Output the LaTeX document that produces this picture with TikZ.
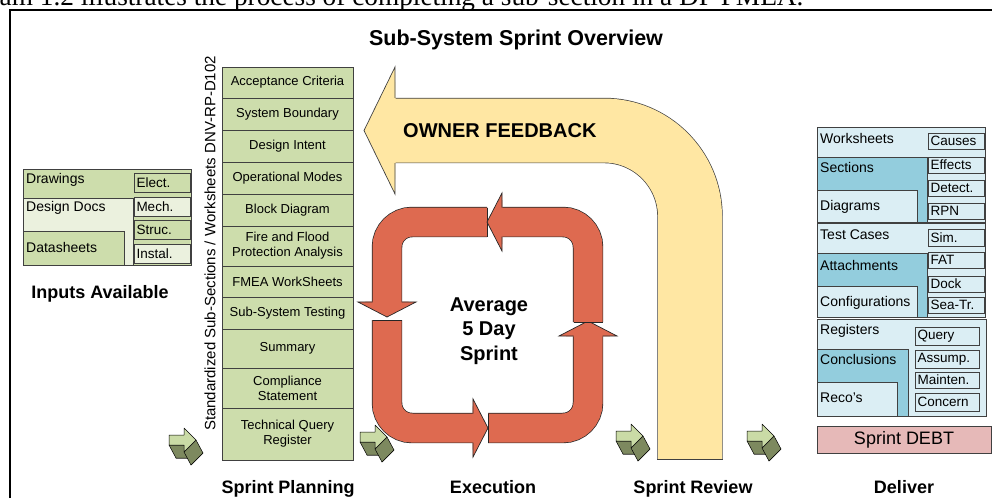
\documentclass[tikz,border=0pt]{standalone}
\usepackage{fontspec}
\setmainfont{Liberation Sans}
\newfontfamily\serifface{Liberation Serif}

\definecolor{plangreen}{RGB}{205,221,172}
\definecolor{palegreen}{RGB}{235,241,222}
\definecolor{paleblue}{RGB}{219,238,244}
\definecolor{tealblue}{RGB}{147,205,221}
\definecolor{debtpink}{RGB}{230,185,184}
\definecolor{feedyellow}{RGB}{255,231,163}
\definecolor{sprintred}{RGB}{222,106,80}
\definecolor{cubelight}{RGB}{202,219,166}
\definecolor{cubedark}{RGB}{125,137,95}
\definecolor{edge}{RGB}{64,64,64}

\tikzset{
  grp/.style={draw=edge, line width=0.8pt},
  item/.style={anchor=west, inner sep=0pt, font=\fontsize{14}{16}\selectfont},
  tagbox/.style={draw=edge, line width=0.8pt, inner xsep=2.5pt, inner ysep=0pt,
    align=left, font=\fontsize{13.5}{15}\selectfont},
  rowbox/.style={draw=edge, line width=0.8pt, fill=plangreen, minimum width=131pt,
    inner sep=0pt, outer sep=0pt, align=center, font=\fontsize{13}{15}\selectfont},
  phase/.style={anchor=base, inner sep=0pt, font=\bfseries\fontsize{18}{18}\selectfont},
  redband/.style={draw=black!85, line width=0.7pt, double=sprintred,
    double distance=29pt, rounded corners=25pt},
  feedband/.style={draw=edge, line width=0.7pt, double=feedyellow,
    double distance=64pt, rounded corners=86pt},
  rim/.style={draw=black!85, line width=0.7pt, line join=miter},
  cubearrow/.pic={
    \filldraw[fill=cubedark, draw=black, line width=0.5pt, line join=round]
      (7,20) -- (22,20) -- (22,13) -- (34,25) -- (22,37) -- (22,30) -- (7,30) -- cycle;
    \filldraw[fill=cubedark, draw=black, line width=0.5pt, line join=round]
      (0,17) -- (15,17) -- (22,30) -- (7,30) -- cycle;
    \filldraw[fill=cubedark, draw=black, line width=0.5pt, line join=round]
      (27,12) -- (15,24) -- (22,37) -- (34,25) -- cycle;
    \filldraw[fill=cubelight, draw=black, line width=0.5pt, line join=round]
      (0,7) -- (15,7) -- (15,0) -- (27,12) -- (15,24) -- (15,17) -- (0,17) -- cycle;
  }
}

\begin{document}
\begin{tikzpicture}[x=1pt,y=-1pt]
\useasboundingbox (0,0) rectangle (992,498);
\clip (0,0) rectangle (992,498);

% running text line above the frame
\node[anchor=base west, inner sep=0pt, font=\serifface\fontsize{27.3}{28}\selectfont]
  (intro) at (-0.5,5) {am 1.2 illustrates the process of completing a sub-section in a DP FMEA.};

% frame
\draw[line width=1.2pt] (10,498) -- (10,10) -- (992,10);

% title
\node[anchor=base, inner sep=0pt, font=\bfseries\fontsize{21.5}{22}\selectfont]
  (title) at (516,45) {Sub-System Sprint Overview};

% ---------- inputs ----------
\draw[grp, fill=plangreen] (23,169) rectangle (191,265);
\draw[grp, fill=palegreen] (23,198) rectangle (133,265);
\draw[grp, fill=plangreen] (23,231) rectangle (124,265);
\node[item] (drawings) at (26,180) {Drawings};
\node[item] (designdocs) at (26,208) {Design Docs};
\node[item] (datasheets) at (26,247) {Datasheets};
\node[tagbox, fill=plangreen, text width=51pt, minimum height=19pt] (elect) at (162,182.5) {Elect.};
\node[tagbox, fill=palegreen, text width=51pt, minimum height=19pt] (mech) at (162,206.5) {Mech.};
\node[tagbox, fill=plangreen, text width=51pt, minimum height=19pt] (struc) at (162,229.5) {Struc.};
\node[tagbox, fill=palegreen, text width=51pt, minimum height=19pt] (instal) at (162,253.5) {Instal.};
\node[phase] (inputs) at (100,298) {Inputs Available};

% ---------- sprint planning column ----------
\node[rowbox, minimum height=31pt] (r1) at (287.5,82.5) {Acceptance Criteria};
\node[rowbox, minimum height=32pt] (r2) at (287.5,114) {System Boundary};
\node[rowbox, minimum height=32pt] (r3) at (287.5,146) {Design Intent};
\node[rowbox, minimum height=32pt] (r4) at (287.5,178) {Operational Modes};
\node[rowbox, minimum height=32pt] (r5) at (287.5,210) {Block Diagram};
\node[rowbox, minimum height=40pt] (r6) at (287.5,246) {Fire and Flood\\Protection Analysis};
\node[rowbox, minimum height=31pt] (r7) at (287.5,281.5) {FMEA WorkSheets};
\node[rowbox, minimum height=32pt] (r8) at (287.5,313) {Sub-System Testing};
\node[rowbox, minimum height=39pt] (r9) at (287.5,348.5) {Summary};
\node[rowbox, minimum height=40pt] (r10) at (287.5,388) {Compliance\\Statement};
\node[rowbox, minimum height=52pt] (r11) at (287.5,434) {Technical Query\\Register};
\node[rotate=90, inner sep=0pt, font=\fontsize{15}{15}\selectfont] (stdlist) at (210,243.5)
  {Standardized Sub-Sections / Worksheets DNV-RP-D102};
\node[phase] (planning) at (288,493) {Sprint Planning};

% ---------- owner feedback arrow ----------
\draw[feedband] (690,459) -- (690,130.5) -- (394,130.5);
\fill[feedyellow] (395.5,97.8) -- (395,67) -- (364,130.5) -- (395,194) -- (395.5,163.2) -- cycle;
\draw[rim, draw=edge] (395,97.8) -- (395,67) -- (364,130.5) -- (395,194) -- (395,163.2);
\draw[rim, draw=edge] (657.3,459) -- (722.7,459);
\node[anchor=base west, inner sep=0pt, font=\bfseries\fontsize{20}{20}\selectfont]
  (feedback) at (403,137) {OWNER FEEDBACK};

% ---------- execution loop ----------
% top band, heading left then down
\draw[redband] (487,222) -- (387,222) -- (387,303);
\draw[rim] (487,207.5) -- (487,236.5);
\fill[sprintred] (372.5,301.5) -- (358,302) -- (387,317) -- (416,302) -- (401.5,301.5) -- cycle;
\draw[rim] (372.5,302) -- (358,302) -- (387,317) -- (416,302) -- (401.5,302);
% left band, heading down then right
\draw[redband] (387,320) -- (387,428) -- (474,428);
\draw[rim] (372.5,320) -- (401.5,320);
\fill[sprintred] (472.5,413.5) -- (473,399) -- (488,428) -- (473,457) -- (472.5,442.5) -- cycle;
\draw[rim] (473,413.5) -- (473,399) -- (488,428) -- (473,457) -- (473,442.5);
% bottom band, heading right then up
\draw[redband] (488,428) -- (588,428) -- (588,335);
\draw[rim] (488,413.5) -- (488,442.5);
\fill[sprintred] (573.5,336.5) -- (559,336) -- (588,321) -- (617,336) -- (602.5,336.5) -- cycle;
\draw[rim] (573.5,336) -- (559,336) -- (588,321) -- (617,336) -- (602.5,336);
% right band, heading up then left
\draw[redband] (588,322) -- (588,222) -- (501,222);
\draw[rim] (573.5,322) -- (602.5,322);
\fill[sprintred] (502.5,207.5) -- (502,193) -- (487,222) -- (502,251) -- (502.5,236.5) -- cycle;
\draw[rim] (502,207.5) -- (502,193) -- (487,222) -- (502,251) -- (502,236.5);
\node[align=center, inner sep=0pt, font=\bfseries\fontsize{20}{24.5}\selectfont]
  (average) at (489,331) {Average\\5 Day\\Sprint};
\node[phase] (execution) at (493,493) {Execution};

% ---------- review ----------
\node[phase] (review) at (693,493) {Sprint Review};

% ---------- deliver ----------
\draw[grp, fill=paleblue] (817,127) rectangle (985,222);
\draw[grp, fill=tealblue] (817,157) rectangle (927,222);
\draw[grp, fill=paleblue] (817,190) rectangle (917,222);
\node[item] (worksheets) at (820,138) {Worksheets};
\node[item] (sections) at (820,167) {Sections};
\node[item] (diagrams) at (820,207) {Diagrams};
\node[tagbox, fill=paleblue, text width=51pt, minimum height=16pt] (causes) at (956,141) {Causes};
\node[tagbox, fill=paleblue, text width=51pt, minimum height=16pt] (effects) at (956,165) {Effects};
\node[tagbox, fill=paleblue, text width=51pt, minimum height=16pt] (detect) at (956,188) {Detect.};
\node[tagbox, fill=paleblue, text width=51pt, minimum height=16pt] (rpn) at (956,211) {RPN};

\draw[grp, fill=paleblue] (817,223) rectangle (985,317);
\draw[grp, fill=tealblue] (817,253) rectangle (927,317);
\draw[grp, fill=paleblue] (817,286) rectangle (917,317);
\node[item] (testcases) at (820,235) {Test Cases};
\node[item] (attachments) at (820,265) {Attachments};
\node[item] (configurations) at (820,303) {Configurations};
\node[tagbox, fill=paleblue, text width=51pt, minimum height=17pt] (sim) at (956,237.5) {Sim.};
\node[tagbox, fill=paleblue, text width=51pt, minimum height=16pt] (fat) at (956,260) {FAT};
\node[tagbox, fill=paleblue, text width=51pt, minimum height=16pt] (dock) at (956,284) {Dock};
\node[tagbox, fill=paleblue, text width=51pt, minimum height=16pt] (seatr) at (956,305) {Sea-Tr.};

\draw[grp, fill=paleblue] (817,319) rectangle (986,416);
\draw[grp, fill=tealblue] (817,349) rectangle (908,416);
\draw[grp, fill=paleblue] (817,382) rectangle (897,416);
\node[item] (registers) at (820,331) {Registers};
\node[item] (conclusions) at (820,359) {Conclusions};
\node[item] (recos) at (820,398) {Reco's};
\node[tagbox, fill=paleblue, text width=59pt, minimum height=18pt] (query) at (947,336) {Query};
\node[tagbox, fill=paleblue, text width=59pt, minimum height=18pt] (assump) at (947,359) {Assump.};
\node[tagbox, fill=paleblue, text width=59pt, minimum height=16pt] (mainten) at (947,380) {Mainten.};
\node[tagbox, fill=paleblue, text width=59pt, minimum height=18pt] (concern) at (947,402) {Concern};

\node[draw=edge, line width=0.8pt, fill=debtpink, minimum width=174pt, minimum height=27pt,
  inner sep=0pt, font=\fontsize{18}{18}\selectfont] (debt) at (904,439.5) {Sprint DEBT};
\node[phase] (deliver) at (904,493) {Deliver};

% ---------- hand-over arrows between phases ----------
\pic at (169,428) {cubearrow};
\pic at (360,425) {cubearrow};
\pic at (616,424) {cubearrow};
\pic at (747,424) {cubearrow};

\end{tikzpicture}
\end{document}
